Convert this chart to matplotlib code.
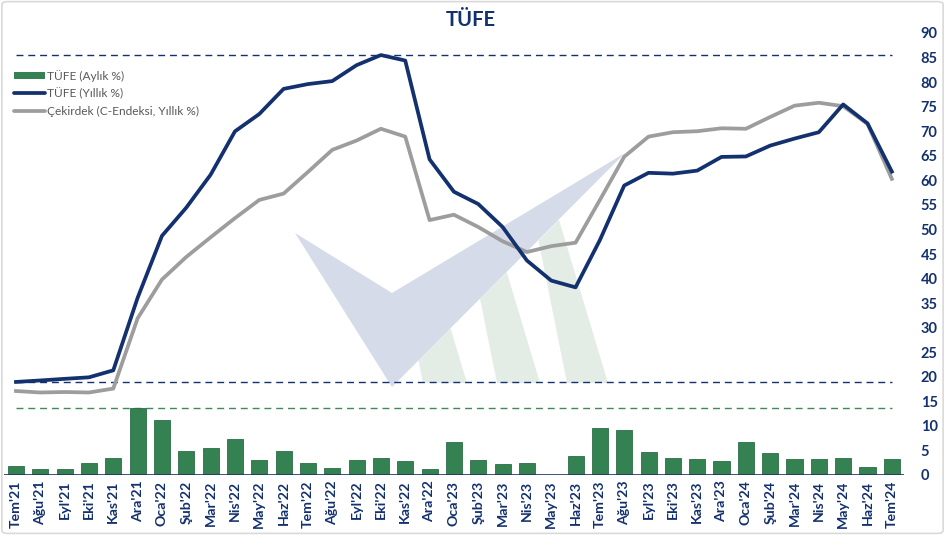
import matplotlib
matplotlib.use("Agg")
import matplotlib.pyplot as plt
from matplotlib.patches import Polygon, FancyBboxPatch, Patch
from matplotlib.lines import Line2D
import numpy as np

months = ["Tem'21", "Ağu'21", "Eyl'21", "Eki'21", "Kas'21", "Ara'21",
          "Oca'22", "Şub'22", "Mar'22", "Nis'22", "May'22", "Haz'22",
          "Tem'22", "Ağu'22", "Eyl'22", "Eki'22", "Kas'22", "Ara'22",
          "Oca'23", "Şub'23", "Mar'23", "Nis'23", "May'23", "Haz'23",
          "Tem'23", "Ağu'23", "Eyl'23", "Eki'23", "Kas'23", "Ara'23",
          "Oca'24", "Şub'24", "Mar'24", "Nis'24", "May'24", "Haz'24", "Tem'24"]

tufe_monthly = [1.80, 1.12, 1.25, 2.39, 3.51, 13.58,
                11.10, 4.81, 5.46, 7.25, 2.98, 4.95,
                2.37, 1.46, 3.08, 3.54, 2.88, 1.18,
                6.65, 3.15, 2.29, 2.39, 0.04, 3.92,
                9.49, 9.09, 4.75, 3.43, 3.28, 2.93,
                6.70, 4.53, 3.16, 3.18, 3.37, 1.64, 3.23]

tufe_annual = [18.95, 19.25, 19.58, 19.89, 21.31, 36.08,
               48.69, 54.44, 61.14, 69.97, 73.50, 78.62,
               79.60, 80.21, 83.45, 85.51, 84.39, 64.27,
               57.68, 55.18, 50.51, 43.68, 39.59, 38.21,
               47.83, 58.94, 61.53, 61.36, 61.98, 64.77,
               64.86, 67.07, 68.50, 69.80, 75.45, 71.60, 61.78]

core_annual = [17.1, 16.8, 16.9, 16.8, 17.6, 31.9,
               39.8, 44.4, 48.4, 52.3, 56.0, 57.3,
               61.7, 66.2, 68.1, 70.5, 68.9, 51.9,
               53.0, 50.5, 47.6, 45.4, 46.6, 47.3,
               56.0, 64.8, 68.9, 69.8, 70.0, 70.6,
               70.5, 72.9, 75.2, 75.8, 75.1, 71.5, 60.3]

yticks = list(range(0, 95, 5))
labels = ["TÜFE (Aylık %)", "TÜFE (Yıllık %)", "Çekirdek (C-Endeksi, Yıllık %)"]

NAVY = "#13306f"
GREEN = "#348152"
GRAY = "#9d9d9d"
FONT = ["Lato", "DejaVu Sans"]

W, H = 945, 535
fig = plt.figure(figsize=(W / 100, H / 100), dpi=100)
fig.patch.set_facecolor("white")

def px(x, y):
    return (x / W, 1 - y / H)

ax = fig.add_axes([3.8 / W, 1 - 475 / H, (904 - 3.8) / W, (475 - 33) / H])
ax.set_facecolor("none")

# watermark (decorative)
blue_poly = [px(295, 233), px(392, 293), px(625, 153), px(392, 387)]
stripes = [
    [px(423, 383), px(467, 383), px(450.6, 328.4), px(418.5, 360.5)],
    [px(497, 383), px(540, 383), px(506.8, 272.2), px(480, 298.8)],
    [px(567, 383), px(608, 383), px(559, 219.9), px(538.5, 240.5)],
]
for s in stripes:
    ax.add_patch(Polygon(s, closed=True, transform=fig.transFigure,
                         facecolor="#e3ede5", edgecolor="none", zorder=0.3))
ax.add_patch(Polygon(blue_poly, closed=True, transform=fig.transFigure,
                     facecolor="#d3d9e8", edgecolor="none", alpha=0.95, zorder=0.4))

x = np.arange(len(months))
ax.bar(x, tufe_monthly, width=0.66, color=GREEN, edgecolor="#2c6e46",
       linewidth=0.6, zorder=2, label=labels[0])
ax.plot(x, tufe_annual, color=NAVY, lw=2.7, zorder=4, label=labels[1],
        solid_joinstyle="round")
ax.plot(x, core_annual, color=GRAY, lw=2.7, zorder=3, label=labels[2],
        solid_joinstyle="round")

ax.hlines(max(tufe_annual), 0, len(months) - 1, colors=NAVY, linestyles=(0, (5, 3.5)), lw=1.0, zorder=1)
ax.hlines(min(tufe_annual), 0, len(months) - 1, colors=NAVY, linestyles=(0, (5, 3.5)), lw=1.0, zorder=1)
ax.hlines(max(tufe_monthly), 0, len(months) - 1, colors="#3f8a5c", linestyles=(0, (5, 3.5)), lw=1.0, zorder=1)

ax.axhline(0, color="#1f3560", lw=1.2, zorder=5)

ax.set_xlim(-0.5, len(months) - 0.5)
ax.set_ylim(0, 90)
for sp in ax.spines.values():
    sp.set_visible(False)

ax.yaxis.tick_right()
ax.set_yticks(yticks)
ax.set_yticklabels([str(v) for v in yticks], fontsize=10.5, fontweight="bold",
                   color=NAVY, family=FONT)
ax.tick_params(axis="y", length=0, pad=12)
ax.set_xticks(x)
ax.set_xticklabels(months, rotation=90, fontsize=10.2, fontweight="bold",
                   color=NAVY, family=FONT)
ax.tick_params(axis="x", length=0, pad=4)

fig.text(471 / W, 1 - 20 / H, "TÜFE", ha="center", va="center", fontsize=14.5,
         fontweight="bold", color=NAVY, family=FONT)

handles = [Patch(facecolor=GREEN, edgecolor="none"),
           Line2D([], [], color=NAVY, lw=2.7, solid_capstyle="round"),
           Line2D([], [], color=GRAY, lw=2.7, solid_capstyle="round")]
leg = ax.legend(handles, labels, loc="upper left",
                bbox_to_anchor=(14 / W, 1 - 70 / H), bbox_transform=fig.transFigure,
                frameon=False, prop={"family": FONT, "size": 8.6},
                handlelength=2.6, handleheight=0.6, handletextpad=0.15,
                labelspacing=0.5, borderpad=0, borderaxespad=0)
for t in leg.get_texts():
    t.set_color("#595959")

fig.patches.append(FancyBboxPatch((0.002, 0.003), 0.996, 0.994,
                                  boxstyle="round,pad=0,rounding_size=0.006",
                                  transform=fig.transFigure, facecolor="none",
                                  edgecolor="#d9d9d9", lw=1.2))

fig.savefig("out.png", dpi=100)
